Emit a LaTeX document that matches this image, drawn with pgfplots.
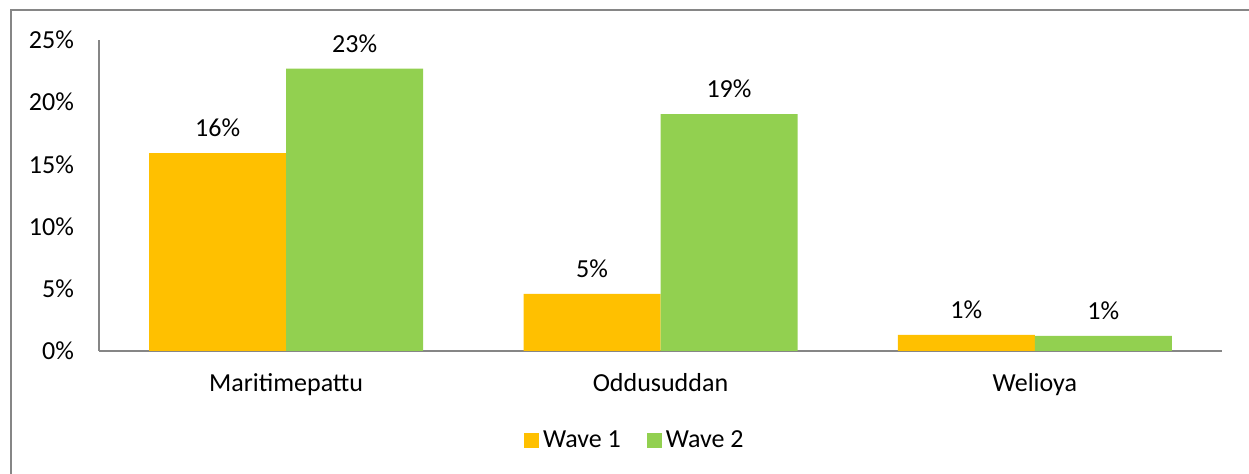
\documentclass[border=0pt]{standalone}
\usepackage{fontspec}
\setmainfont{Carlito}
\usepackage{pgfplots}
\pgfplotsset{compat=1.18}

\definecolor{waveone}{HTML}{FFC000}
\definecolor{wavetwo}{HTML}{92D050}
\definecolor{axisgray}{HTML}{868686}

\pgfplotstableread{
x  w1    w2
0  15.9  22.7
1  4.6   19.05
2  1.29  1.22
}\waves

\begin{document}
\begin{tikzpicture}
\useasboundingbox (0,0) rectangle (624.5pt,237pt);
\draw[axisgray, line width=1pt] (5.5pt,0pt) -- (5.5pt,232pt) -- (624.5pt,232pt);
\begin{axis}[
  at={(49.5pt,61.5pt)}, anchor=south west,
  scale only axis, width=561.5pt, height=155.5pt,
  font=\fontsize{13}{15.5}\selectfont,
  /pgf/number format/assume math mode=true,
  ybar=0pt, bar width=68.5pt,
  xmin=-0.5, xmax=2.5, ymin=0, ymax=25,
  xtick=data, xticklabels={Maritimepattu, Oddusuddan, Welioya},
  ytick={0,5,...,25},
  yticklabel={\pgfmathprintnumber{\tick}\%},
  major tick length=0pt,
  axis lines*=left,
  axis line style={draw=axisgray, line width=0.6pt, -},
  yticklabel style={xshift=-9pt},
  xticklabel style={yshift=-7.5pt},
  nodes near coords={\pgfmathprintnumber[fixed, precision=0]{\pgfplotspointmeta}\%},
  every node near coord/.append style={yshift=4.5pt, black},
  legend style={at={(0.478,-0.289)}, anchor=center, draw=none,
    legend columns=2,
    /tikz/every even column/.append style={column sep=11pt}},
  legend image code/.code={\fill[#1] (-2.5pt,-3.75pt) rectangle (5pt,3.75pt);},
]
\addplot[fill=waveone, draw=none] table[x=x, y=w1] {\waves};
\addplot[fill=wavetwo, draw=none] table[x=x, y=w2] {\waves};
\legend{Wave 1, Wave 2}
\end{axis}
\end{tikzpicture}
\end{document}
